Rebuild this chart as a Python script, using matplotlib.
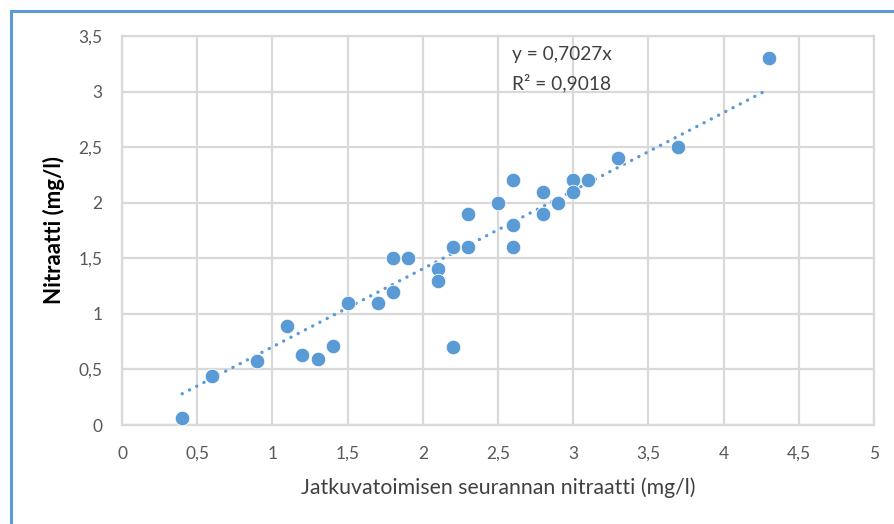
import matplotlib
matplotlib.use("Agg")
import matplotlib.pyplot as plt
from matplotlib.lines import Line2D
import numpy as np

# continuous monitoring nitrate (x) vs lab nitrate (y), mg/l
x_jatkuva = [0.4, 0.6, 0.9, 1.1, 1.2, 1.3, 1.4, 1.5, 1.7, 1.8, 1.8, 1.9, 2.1, 2.1, 2.2,
             2.2, 2.3, 2.3, 2.5, 2.6, 2.6, 2.6, 2.8, 2.8, 2.9, 3.0, 3.0, 3.1, 3.3, 3.7, 4.3]
y_nitraatti = [0.06, 0.44, 0.58, 0.89, 0.63, 0.59, 0.71, 1.10, 1.10, 1.20, 1.50, 1.50, 1.40, 1.30, 1.60,
               0.70, 1.60, 1.90, 2.00, 2.20, 1.80, 1.60, 2.10, 1.90, 2.00, 2.20, 2.10, 2.20, 2.40, 2.50, 3.30]
slope = 0.7027
r2 = 0.9018
x_ticks = [0, 0.5, 1, 1.5, 2, 2.5, 3, 3.5, 4, 4.5, 5]
y_ticks = [0, 0.5, 1, 1.5, 2, 2.5, 3, 3.5]

BLUE = "#5B9BD5"
GRID = "#D9D9D9"
TXT = "#595959"
plt.rcParams["font.family"] = ["Lato", "DejaVu Sans"]


def fi(v):
    return ("%g" % v).replace(".", ",")


fig = plt.figure(figsize=(8.94, 5.24), dpi=100)
ax = fig.add_axes([122 / 894, 1 - 425 / 524, 752 / 894, 389 / 524])

ax.set_xlim(0, 5); ax.set_ylim(0, 3.5)
ax.set_xticks(x_ticks); ax.set_yticks(y_ticks)
ax.set_xticklabels([fi(v) for v in x_ticks], fontsize=12.5, color=TXT)
ax.set_yticklabels([fi(v) for v in y_ticks], fontsize=12.5, color=TXT)
ax.tick_params(axis="x", length=0, pad=15)
ax.tick_params(axis="y", length=0, pad=14)
ax.grid(True, color=GRID, lw=1.6)
ax.set_axisbelow(True)
for s in ax.spines.values():
    s.set_color(GRID); s.set_linewidth(1.6)

# trendline through origin over the data range
xt = np.array([min(x_jatkuva), max(x_jatkuva)])
ax.plot(xt, slope * xt, color=BLUE, lw=2.4, ls=(0, (0.05, 2.4)), dash_capstyle="round", zorder=2)
ax.scatter(x_jatkuva, y_nitraatti, s=110, color=BLUE, edgecolors="white", linewidths=0.6, zorder=3)

ax.text(2.59, 3.33, f"y = {fi(slope)}x", fontsize=13.8, color="#404040", va="center")
ax.text(2.59, 3.08, f"R² = {fi(r2)}", fontsize=13.8, color="#404040", va="center")

ax.set_xlabel("Jatkuvatoimisen seurannan nitraatti (mg/l)", fontsize=15.3, color="#404040", labelpad=11)
ax.set_ylabel("Nitraatti (mg/l)", fontsize=16, fontweight="bold", color="black", labelpad=10)

# chart border (left and top edges visible)
fig.add_artist(Line2D([11 / 894, 11 / 894], [0, 1 - 11 / 524], color=BLUE, lw=2.2))
fig.add_artist(Line2D([11 / 894, 1], [1 - 11 / 524, 1 - 11 / 524], color=BLUE, lw=2.2))

fig.savefig("out.png", dpi=100)
